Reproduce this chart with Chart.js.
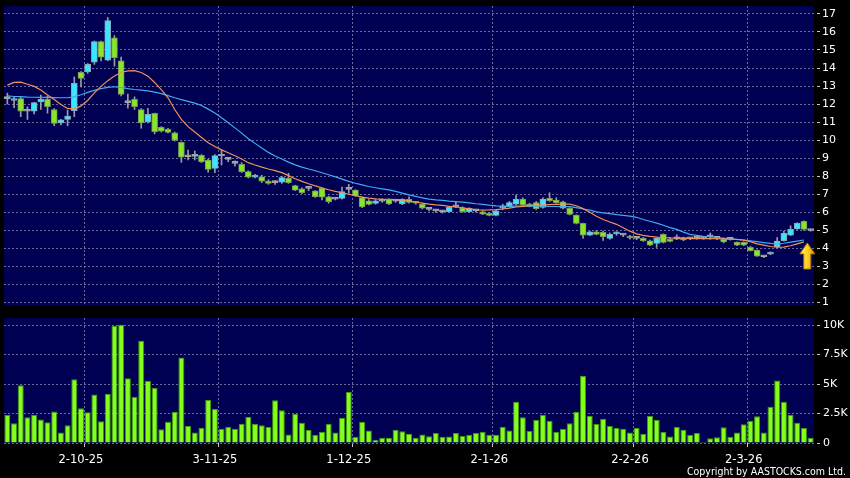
<!DOCTYPE html>
<html>
<head>
<meta charset="utf-8">
<script src="https://cdn.jsdelivr.net/npm/chart.js@4.4.1/dist/chart.umd.min.js"></script>
<style>
html, body { margin: 0; padding: 0; background: #000; }
#wrap { position: relative; width: 850px; height: 478px; overflow: hidden; background: #000; }
#cajaPrecio { position: absolute; left: 0; top: 0; width: 850px; height: 310px; }
#cajaVol { position: absolute; left: 0; top: 310px; width: 850px; height: 168px; }
</style>
</head>
<body>
<div id="wrap">
  <div id="cajaPrecio"><canvas id="graficoPrecio"></canvas></div>
  <div id="cajaVol"><canvas id="graficoVol"></canvas></div>
</div>
<script>
// velas diarias
const aperturas = [12.3,12.2,12.3,11.6,11.6,12.12,12.27,11.7,10.95,11.15,
11.63,13.76,13.8,14.32,15.46,14.44,15.68,14.4,12.08,12.27,
11.7,11.02,11.49,10.71,10.6,10.41,9.88,9.08,9.1,9.16,
8.9,8.43,9.12,8.93,8.71,8.66,8.25,7.94,7.97,7.73,
7.64,7.67,7.88,7.48,7.3,7.32,7.19,7.32,6.86,6.73,
6.77,7.27,7.23,6.81,6.64,6.49,6.62,6.72,6.62,6.46,
6.72,6.58,6.45,6.16,6.08,6.03,6.03,6.3,6.25,6.03,
6.08,6.03,5.94,5.83,6.22,6.31,6.45,6.73,6.45,6.53,
6.27,6.77,6.68,6.58,6.22,5.84,5.38,4.73,4.92,4.88,
4.55,4.8,4.73,4.68,4.55,4.55,4.42,4.27,4.77,4.5,
4.51,4.59,4.53,4.55,4.55,4.64,4.55,4.5,4.5,4.33,
4.33,4.05,3.9,3.53,3.68,4.09,4.42,4.73,5.07,5.49,
4.99];

const cierres = [12.3,12.3,11.6,11.6,12.08,12.27,11.86,10.93,11.13,11.34,
13.15,13.43,14.2,15.46,14.6,16.63,14.57,12.54,12.08,11.86,
10.95,11.43,10.47,10.5,10.43,10.0,9.05,9.08,9.2,8.8,
8.38,9.14,9.12,8.93,8.71,8.25,7.94,8.0,7.73,7.6,
7.64,7.92,7.64,7.23,7.08,7.32,6.86,6.83,6.58,6.73,
7.14,7.27,6.92,6.3,6.44,6.64,6.62,6.46,6.62,6.72,
6.55,6.5,6.22,6.16,6.08,6.03,6.27,6.3,6.03,6.22,
6.08,5.9,5.83,6.08,6.22,6.53,6.73,6.4,6.34,6.2,
6.73,6.64,6.53,6.22,5.88,5.38,4.73,4.92,4.77,4.64,
4.77,4.86,4.73,4.57,4.55,4.42,4.18,4.55,4.33,4.38,
4.64,4.46,4.53,4.55,4.55,4.64,4.55,4.35,4.5,4.18,
4.18,3.87,3.57,3.53,3.77,4.4,4.83,5.05,5.38,5.05,
4.99];

const maximos = [12.6,12.4,12.4,11.85,12.1,12.5,12.45,11.75,11.15,11.67,
13.5,13.8,14.25,15.5,15.5,16.8,15.8,14.6,12.55,12.4,
11.75,11.77,11.5,10.75,10.65,10.45,9.9,9.45,9.4,9.2,
8.95,9.2,9.45,9.05,8.85,8.75,8.3,8.1,8.05,7.8,
7.75,8.0,8.16,7.5,7.35,7.45,7.2,7.35,6.9,6.8,
7.4,7.55,7.25,6.85,6.7,6.7,6.75,6.75,6.7,6.75,
6.85,6.6,6.5,6.25,6.15,6.1,6.3,6.55,6.3,6.25,
6.15,6.08,5.98,6.1,6.45,6.6,6.95,6.8,6.5,6.6,
6.8,7.08,6.8,6.62,6.25,5.86,5.4,4.95,4.98,4.95,
4.85,4.92,4.8,4.72,4.62,4.6,4.45,4.6,4.8,4.6,
4.75,4.62,4.6,4.62,4.6,4.85,4.6,4.55,4.55,4.36,
4.36,4.1,3.92,3.58,3.8,4.6,4.95,5.25,5.42,5.52,
5.05];

const minimos = [12.0,11.8,11.3,11.15,11.45,11.7,11.5,10.8,10.85,10.8,
11.3,12.95,13.7,14.2,14.4,14.4,14.1,12.45,11.77,11.7,
10.66,10.95,10.35,10.45,10.4,9.95,8.77,8.9,8.9,8.75,
8.22,8.19,8.62,8.8,8.55,8.2,7.9,7.9,7.65,7.55,
7.55,7.6,7.6,7.2,7.05,7.2,6.82,6.68,6.5,6.68,
6.72,7.05,6.88,6.25,6.4,6.45,6.55,6.42,6.55,6.42,
6.5,6.45,6.18,6.08,6.0,5.95,6.0,6.25,6.0,6.0,
6.0,5.87,5.8,5.8,6.15,6.28,6.4,6.36,6.3,6.15,
6.22,6.6,6.5,6.18,5.85,5.35,4.55,4.7,4.75,4.44,
4.5,4.72,4.65,4.5,4.48,4.38,4.15,4.05,4.3,4.35,
4.48,4.42,4.48,4.5,4.5,4.5,4.48,4.3,4.45,4.15,
4.15,3.85,3.55,3.48,3.65,4.02,4.4,4.7,5.05,5.0,
4.95];

// medias moviles (naranja = corta, azul = larga)
const mediaCorta = [13.05,13.2,13.22,13.1,12.98,12.78,12.5,12.25,11.98,11.76,
11.72,11.9,12.2,12.62,12.98,13.3,13.56,13.75,13.84,13.85,
13.75,13.55,13.2,12.8,12.35,11.7,11.15,10.75,10.45,10.15,
9.85,9.65,9.46,9.3,9.13,8.95,8.75,8.62,8.5,8.4,
8.31,8.2,8.03,7.86,7.71,7.58,7.46,7.35,7.25,7.16,
7.08,7.0,6.92,6.84,6.78,6.74,6.72,6.72,6.7,6.67,
6.62,6.57,6.51,6.45,6.41,6.38,6.33,6.29,6.25,6.19,
6.14,6.12,6.13,6.15,6.18,6.23,6.29,6.33,6.36,6.39,
6.41,6.43,6.44,6.45,6.45,6.36,6.2,6.0,5.78,5.6,
5.46,5.33,5.14,4.95,4.8,4.72,4.66,4.62,4.6,4.58,
4.57,4.56,4.54,4.54,4.54,4.54,4.53,4.52,4.51,4.49,
4.45,4.37,4.25,4.18,4.1,4.06,4.07,4.14,4.25,4.36,
null];

const mediaLarga = [12.45,12.42,12.41,12.39,12.38,12.37,12.37,12.36,12.35,12.35,
12.4,12.52,12.65,12.76,12.86,12.93,12.96,12.92,12.86,12.81,
12.77,12.73,12.66,12.58,12.47,12.35,12.25,12.15,12.05,11.92,
11.72,11.5,11.24,10.96,10.68,10.39,10.08,9.82,9.57,9.32,
9.12,8.95,8.78,8.63,8.5,8.4,8.3,8.19,8.08,7.96,
7.84,7.71,7.61,7.52,7.43,7.36,7.3,7.24,7.16,7.06,
6.96,6.88,6.8,6.73,6.69,6.66,6.62,6.59,6.56,6.52,
6.47,6.44,6.39,6.35,6.34,6.34,6.34,6.34,6.34,6.34,
6.34,6.33,6.32,6.31,6.31,6.26,6.18,6.12,6.02,5.97,
5.92,5.87,5.83,5.78,5.72,5.6,5.5,5.4,5.28,5.15,
5.05,4.9,4.77,4.72,4.67,4.63,4.6,4.56,4.53,4.5,
4.46,4.42,4.37,4.32,4.27,4.24,4.28,4.34,4.4,4.46,
null];

// volumen en miles
const volumenK = [2.37,1.67,4.89,2.18,2.40,2.0,1.75,2.68,0.9,1.5,
5.4,2.94,2.6,4.12,1.84,4.18,9.92,10.03,5.5,3.9,
8.67,5.28,4.69,1.16,1.81,2.66,7.26,1.44,0.9,1.3,
3.67,2.88,1.21,1.38,1.21,1.64,2.23,1.64,1.5,1.36,
3.62,2.77,0.73,2.49,1.72,1.1,0.68,0.96,1.64,0.88,
2.12,4.32,0.54,1.81,1.07,0.28,0.45,0.42,1.13,0.99,
0.79,0.45,0.72,0.58,0.85,0.54,0.56,0.85,0.59,0.71,
0.85,0.96,0.71,0.71,1.38,1.07,3.5,2.18,1.02,1.95,
2.4,1.89,0.96,1.21,1.67,2.66,5.71,2.32,1.61,2.06,
1.44,1.27,1.21,0.88,1.3,0.79,2.32,1.98,0.93,0.56,
1.36,1.13,0.68,0.85,0.08,0.4,0.48,1.33,0.54,0.9,
1.58,1.89,2.26,0.9,3.08,5.31,3.5,2.4,1.72,1.27,
0.45];

const indicesFecha = [11, 31, 51, 72, 93, 110];
const textosFecha = ['2-10-25', '3-11-25', '1-12-25', '2-1-26', '2-2-26', '2-3-26'];
const marcasPrecio = [1,2,3,4,5,6,7,8,9,10,11,12,13,14,15,16,17];
const marcasVol = [0, 2.5, 5, 7.5, 10];
const flechaEn = { indice: 119.5, punta: 4.3, base: 2.85 };

const etiquetas = aperturas.map((_, i) => {
  const k = indicesFecha.indexOf(i);
  return k >= 0 ? textosFecha[k] : '';
});

const colorGrid = '#6a6a9c';
const colorMarca = '#c8c8c8';
const fuente = 'DejaVu Sans';

function colorVela(i) {
  if (cierres[i] > aperturas[i]) return '#38e6ff';
  if (cierres[i] < aperturas[i]) return '#86e62c';
  return '#a8a8a8';
}

function bordeVela(i) {
  if (cierres[i] > aperturas[i]) return '#8aa8b8';
  if (cierres[i] < aperturas[i]) return '#7a9a50';
  return '#a8a8a8';
}

//fondo azul del area de trazado
const fondoPlot = {
  id: 'fondoPlot',
  beforeDraw(chart) {
    const a = chart.chartArea;
    const ctx = chart.ctx;
    ctx.save();
    ctx.fillStyle = '#000052';
    ctx.fillRect(a.left, a.top, a.right - a.left, a.bottom - a.top);
    ctx.restore();
  }
};

//flecha amarilla al final
const flecha = {
  id: 'flecha',
  afterDatasetsDraw(chart) {
    const ctx = chart.ctx;
    const x = chart.scales.x.getPixelForValue(flechaEn.indice);
    const y1 = chart.scales.y.getPixelForValue(flechaEn.punta);
    const y2 = chart.scales.y.getPixelForValue(flechaEn.base);
    const cab = (y2 - y1) * 0.42;
    ctx.save();
    const g = ctx.createLinearGradient(x - 7, 0, x + 7, 0);
    g.addColorStop(0, '#ffe97a');
    g.addColorStop(0.5, '#ffd21e');
    g.addColorStop(1, '#d99a00');
    ctx.fillStyle = g;
    ctx.strokeStyle = '#a87400';
    ctx.lineWidth = 1;
    ctx.beginPath();
    ctx.moveTo(x, y1);
    ctx.lineTo(x + 7.5, y1 + cab);
    ctx.lineTo(x + 3.5, y1 + cab);
    ctx.lineTo(x + 3.5, y2);
    ctx.lineTo(x - 3.5, y2);
    ctx.lineTo(x - 3.5, y1 + cab);
    ctx.lineTo(x - 7.5, y1 + cab);
    ctx.closePath();
    ctx.fill();
    ctx.stroke();
    ctx.restore();
  }
};

const copyright = {
  id: 'copyright',
  afterDraw(chart) {
    const ctx = chart.ctx;
    ctx.save();
    ctx.fillStyle = '#ffffff';
    ctx.font = '10.5px "DejaVu Sans Condensed", "DejaVu Sans"';
    ctx.textAlign = 'right';
    ctx.textBaseline = 'alphabetic';
    ctx.fillText('Copyright by AASTOCKS.com Ltd.', 846, 165);
    ctx.restore();
  }
};

function sinPadding(s) {
  s.paddingTop = 0;
  s.paddingBottom = 0;
  s.paddingLeft = 0;
  s.paddingRight = 0;
}

function ejeX(conEtiquetas) {
  return {
    type: 'category',
    offset: true,
    grid: {
      offset: true,
      color: ctx => indicesFecha.includes(ctx.index - 1) ? colorGrid : 'rgba(0,0,0,0)',
      tickColor: ctx => indicesFecha.includes(ctx.index - 1) ? colorMarca : 'rgba(0,0,0,0)',
      drawTicks: conEtiquetas,
      tickLength: 4,
      tickBorderDash: [],
      lineWidth: 1
    },
    border: { display: false, dash: [2, 2] },
    ticks: {
      display: conEtiquetas,
      autoSkip: false,
      maxRotation: 0,
      color: '#ffffff',
      padding: 6,
      font: { family: fuente, size: 11.5 },
      callback: (v, i) => etiquetas[i]
    },
    afterFit: s => { s.height = conEtiquetas ? 35 : 0; sinPadding(s); }
  };
}

function ejeY(min, max, marcas, texto, pad) {
  return {
    position: 'right',
    min: min,
    max: max,
    afterBuildTicks: s => { s.ticks = marcas.map(v => ({ value: v })); },
    afterFit: s => { s.width = 36; sinPadding(s); },
    grid: {
      color: colorGrid,
      tickColor: colorMarca,
      tickLength: 6,
      tickBorderDash: [0, 3, 3],
      lineWidth: 1
    },
    border: { display: false, dash: [2, 2] },
    ticks: {
      color: '#ffffff',
      padding: pad,
      font: { family: fuente, size: 11 },
      callback: texto
    }
  };
}

// grafico de precios
new Chart(document.querySelector('#graficoPrecio'), {
  type: 'bar',
  data: {
    labels: etiquetas,
    datasets: [
      {
        type: 'line',
        data: mediaCorta,
        borderColor: '#f0905a',
        borderWidth: 1.2,
        pointRadius: 0,
        tension: 0,
        order: 0
      },
      {
        type: 'line',
        data: mediaLarga,
        borderColor: '#3eaaf0',
        borderWidth: 1.2,
        pointRadius: 0,
        tension: 0,
        order: 0
      },
      {
        data: aperturas.map((o, i) => [o, cierres[i]]),
        backgroundColor: ctx => colorVela(ctx.dataIndex),
        borderColor: ctx => bordeVela(ctx.dataIndex),
        borderWidth: 1,
        borderSkipped: false,
        barThickness: 6,
        minBarLength: 2,
        grouped: false,
        order: 1
      },
      {
        data: minimos.map((l, i) => [l, maximos[i]]),
        backgroundColor: '#9c9c9c',
        barThickness: 1,
        grouped: false,
        order: 2
      }
    ]
  },
  options: {
    responsive: true,
    maintainAspectRatio: false,
    animation: false,
    layout: { padding: { left: 4, top: 6, right: 0, bottom: 4 } },
    plugins: { legend: { display: false }, tooltip: { enabled: false } },
    scales: {
      x: ejeX(false),
      y: ejeY(0.8, 17.44, marcasPrecio, v => String(v), 2)
    }
  },
  plugins: [fondoPlot, flecha]
});

// grafico de volumen
new Chart(document.querySelector('#graficoVol'), {
  type: 'bar',
  data: {
    labels: etiquetas,
    datasets: [{
      data: volumenK,
      backgroundColor: '#84ff1c',
      borderColor: '#3f9a08',
      borderWidth: 1,
      borderSkipped: 'bottom',
      barPercentage: 0.9,
      categoryPercentage: 1.0
    }]
  },
  options: {
    responsive: true,
    maintainAspectRatio: false,
    animation: false,
    layout: { padding: { left: 4, top: 8, right: 0, bottom: 0 } },
    plugins: { legend: { display: false }, tooltip: { enabled: false } },
    scales: {
      x: ejeX(true),
      y: ejeY(0, 10.6, marcasVol, v => v === 0 ? '0' : v + 'K', 3)
    }
  },
  plugins: [fondoPlot, copyright]
});
</script>
</body>
</html>
